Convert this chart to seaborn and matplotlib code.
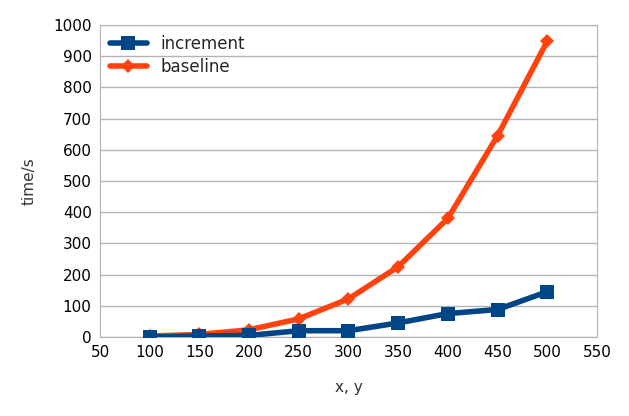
import matplotlib
matplotlib.use("Agg")
import matplotlib.pyplot as plt
import seaborn as sns
import pandas as pd

# values
xy = [100, 150, 200, 250, 300, 350, 400, 450, 500]
increment = [0, 3, 5, 20, 20, 45, 75, 88, 145]
baseline = [3, 8, 23, 58, 122, 225, 380, 645, 948]

sns.set_style("white")
plt.rcParams["font.family"] = ["DejaVu Sans"]
fig = plt.figure(figsize=(6.29, 4.16), dpi=100)
ax = fig.add_axes([0.159, 0.19, 0.79, 0.75])

# baseline drawn first so increment sits on top
sns.lineplot(x=xy, y=baseline, color="#ff420e", marker="D", linewidth=4,
             markersize=7, markeredgewidth=0, label="baseline", ax=ax, zorder=2)
sns.lineplot(x=xy, y=increment, color="#004586", marker="s", linewidth=4,
             markersize=10, markeredgewidth=0, label="increment", ax=ax, zorder=3)

ax.set_xlim(50, 550)
ax.set_ylim(0, 1000)
ax.set_xticks(range(50, 551, 50))
ax.set_yticks(range(0, 1001, 100))
ax.yaxis.grid(True, color="#b3b3b3", linewidth=1)
for s in ax.spines.values():
    s.set_color("#b3b3b3")
ax.tick_params(labelsize=11, length=0, pad=6, labelcolor="black")
ax.set_xlabel("x, y", fontsize=11, color="#333333", labelpad=14)
ax.set_ylabel("time/s", fontsize=11, color="#333333", labelpad=12)
h, l = ax.get_legend_handles_labels()
ax.legend(h[::-1], l[::-1], loc="upper left", frameon=False, fontsize=12,
          handlelength=2.2, borderaxespad=0.2, labelspacing=0.3)
fig.savefig("out.png", dpi=100)
